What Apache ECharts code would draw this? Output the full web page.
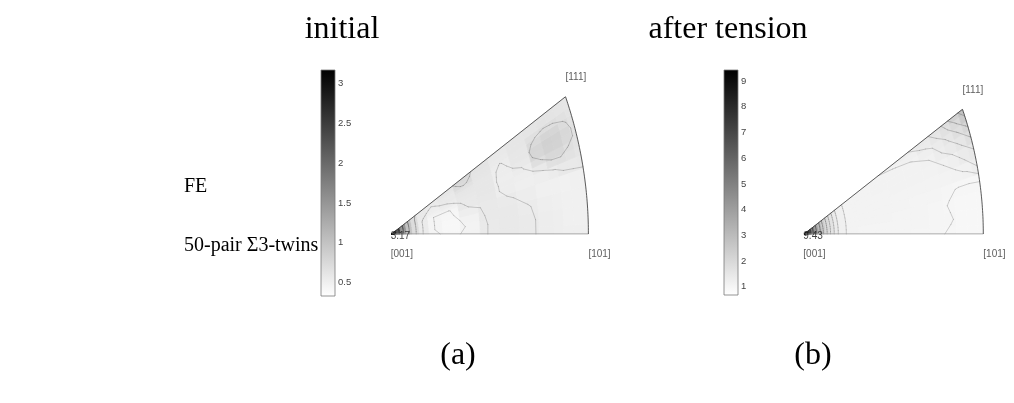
<!DOCTYPE html>
<html><head><meta charset="utf-8">
<script src="https://cdn.jsdelivr.net/npm/echarts@6/dist/echarts.min.js"></script>
<style>html,body{margin:0;padding:0;background:#fff}#c{width:1014px;height:403px}</style>
</head><body><div id="c"></div>
<script>
// ---------------- data ----------------
const panelTitles = ['initial', 'after tension'];
const rowLabels = ['FE', '50-pair Σ3-twins'];
const panelTags = ['(a)', '(b)'];
const poleLabels = ['[001]', '[101]', '[111]'];

const rangeA = [0.33, 3.17];
const rangeB = [0.68, 9.43];
const ticksA = [0.5, 1, 1.5, 2, 2.5, 3];
const ticksB = [1, 2, 3, 4, 5, 6, 7, 8, 9];
const maxLabelA = '3.17';
const maxLabelB = '9.43';
const levelsA = [0.45, 0.55, 0.7, 1.0, 1.5, 2.0, 2.5, 3.0];
const levelsB = [1.0, 1.15, 1.3, 1.5, 1.75, 2.0, 2.5, 3, 4, 5, 6, 7, 8, 9];

// sample directions: u = fraction from the [001]-[101] edge to the [001]-[111] edge,
// s = fraction of the way from [001] to the [101]-[111] arc
const uNodesA = [0, 0.125, 0.25, 0.375, 0.5, 0.5625, 0.625, 0.6875, 0.75, 0.8125, 0.875, 0.9375, 1];
const sNodesA = [0, 0.03, 0.06, 0.09, 0.12, 0.16, 0.22, 0.3, 0.4, 0.5, 0.6, 0.7, 0.8, 0.85, 0.9, 0.95, 1];
const densityA = [
  [3.17, 2.2, 1.5, 1.0, 0.72, 0.55, 0.46, 0.43, 0.47, 0.56, 0.57, 0.56, 0.53, 0.52, 0.51, 0.51, 0.51],
  [3.17, 2.2, 1.5, 1.0, 0.72, 0.55, 0.45, 0.42, 0.46, 0.56, 0.58, 0.56, 0.53, 0.52, 0.50, 0.50, 0.50],
  [3.17, 2.2, 1.5, 1.0, 0.72, 0.55, 0.45, 0.42, 0.48, 0.57, 0.58, 0.555, 0.52, 0.51, 0.50, 0.50, 0.50],
  [3.17, 2.2, 1.5, 1.0, 0.72, 0.55, 0.45, 0.43, 0.52, 0.57, 0.56, 0.53, 0.50, 0.495, 0.49, 0.495, 0.50],
  [3.17, 2.2, 1.5, 1.0, 0.72, 0.55, 0.45, 0.44, 0.57, 0.59, 0.53, 0.51, 0.52, 0.545, 0.57, 0.58, 0.59],
  [3.17, 2.2, 1.5, 1.0, 0.72, 0.555, 0.47, 0.49, 0.58, 0.60, 0.525, 0.52, 0.58, 0.66, 0.68, 0.65, 0.62],
  [3.17, 2.2, 1.5, 1.0, 0.72, 0.56, 0.50, 0.53, 0.59, 0.60, 0.52, 0.54, 0.69, 0.76, 0.76, 0.69, 0.64],
  [3.17, 2.2, 1.5, 1.0, 0.72, 0.565, 0.52, 0.55, 0.60, 0.60, 0.525, 0.57, 0.78, 0.83, 0.82, 0.75, 0.665],
  [3.17, 2.2, 1.5, 1.0, 0.72, 0.57, 0.53, 0.57, 0.61, 0.60, 0.53, 0.60, 0.79, 0.84, 0.83, 0.76, 0.66],
  [3.17, 2.2, 1.5, 1.0, 0.725, 0.575, 0.54, 0.58, 0.65, 0.61, 0.545, 0.60, 0.74, 0.80, 0.79, 0.72, 0.65],
  [3.17, 2.2, 1.5, 1.0, 0.73, 0.58, 0.55, 0.59, 0.72, 0.62, 0.565, 0.605, 0.68, 0.71, 0.695, 0.665, 0.63],
  [3.17, 2.2, 1.5, 1.0, 0.74, 0.58, 0.565, 0.61, 0.75, 0.63, 0.58, 0.61, 0.62, 0.64, 0.635, 0.625, 0.61],
  [3.17, 2.2, 1.5, 1.0, 0.75, 0.58, 0.58, 0.63, 0.77, 0.64, 0.59, 0.61, 0.63, 0.63, 0.63, 0.62, 0.61]
];

const uNodesB = [0, 0.125, 0.25, 0.375, 0.5, 0.625, 0.75, 0.85, 0.92, 1];
const sNodesB = [0, 0.025, 0.05, 0.07, 0.09, 0.11, 0.13, 0.155, 0.18, 0.21, 0.26, 0.35, 0.45, 0.55, 0.65, 0.75, 0.82, 0.88, 0.94, 1];
const densityB = [
  [9.43, 7.0, 5.0, 3.9, 3.0, 2.4, 1.95, 1.65, 1.35, 1.2, 1.1, 1.07, 1.06, 1.05, 1.04, 1.02, 0.98, 0.96, 0.95, 0.95],
  [9.43, 7.0, 5.0, 3.9, 3.0, 2.4, 1.95, 1.65, 1.35, 1.2, 1.1, 1.07, 1.07, 1.06, 1.05, 1.03, 1.01, 0.97, 0.96, 0.96],
  [9.43, 7.0, 5.0, 3.9, 3.0, 2.4, 1.95, 1.65, 1.35, 1.2, 1.1, 1.08, 1.08, 1.07, 1.06, 1.04, 0.99, 0.97, 0.96, 0.97],
  [9.43, 7.0, 5.0, 3.9, 3.0, 2.4, 1.95, 1.65, 1.35, 1.2, 1.1, 1.08, 1.08, 1.08, 1.07, 1.05, 1.02, 0.99, 0.98, 0.99],
  [9.43, 7.0, 5.0, 3.9, 3.0, 2.4, 1.95, 1.65, 1.35, 1.2, 1.1, 1.09, 1.09, 1.09, 1.09, 1.10, 1.10, 1.12, 1.17, 1.30],
  [9.43, 7.0, 5.0, 3.9, 3.0, 2.4, 1.95, 1.65, 1.35, 1.2, 1.1, 1.10, 1.10, 1.11, 1.12, 1.13, 1.15, 1.22, 1.36, 1.47],
  [9.43, 7.0, 5.0, 3.9, 3.0, 2.4, 1.95, 1.65, 1.35, 1.2, 1.1, 1.10, 1.11, 1.12, 1.14, 1.15, 1.29, 1.40, 1.55, 1.78],
  [9.43, 7.0, 5.0, 3.9, 3.0, 2.4, 1.95, 1.65, 1.35, 1.2, 1.1, 1.10, 1.12, 1.14, 1.14, 1.24, 1.36, 1.55, 1.78, 2.05],
  [9.43, 7.0, 5.0, 3.9, 3.0, 2.4, 1.95, 1.65, 1.35, 1.2, 1.1, 1.10, 1.13, 1.14, 1.20, 1.35, 1.50, 1.70, 1.95, 2.45],
  [9.43, 7.0, 5.0, 3.9, 3.0, 2.4, 1.95, 1.65, 1.35, 1.2, 1.1, 1.12, 1.14, 1.20, 1.29, 1.45, 1.56, 1.82, 2.25, 2.75]
];

// ---------------- geometry (stereographic projection of the cubic standard triangle) ----------------
function boundary(u) { const n = Math.sqrt(2 + u * u); return [1 / (n + 1), u / (n + 1)]; }
function proj(u, s) { const b = boundary(u); return [s * b[0], s * b[1]]; }
const X_MAX = boundary(0)[0];
const Y_MAX = boundary(1)[1];

function cellData(V) {
  const out = [];
  V.forEach((row, i) => row.forEach((v, j) => out.push([i, j, v])));
  return out;
}
function cellRenderer(uN, sN) {
  return function (params, api) {
    const i = api.value(0), j = api.value(1);
    const uLo = i === 0 ? 0 : (uN[i - 1] + uN[i]) / 2;
    const uHi = i === uN.length - 1 ? 1 : (uN[i] + uN[i + 1]) / 2;
    const sLo = j === 0 ? 0 : (sN[j - 1] + sN[j]) / 2;
    const sHi = j === sN.length - 1 ? 1 : (sN[j] + sN[j + 1]) / 2;
    const pts = [], K = 4;
    for (let k = 0; k <= K; k++) pts.push(api.coord(proj(uLo + (uHi - uLo) * k / K, sLo)));
    for (let k = K; k >= 0; k--) pts.push(api.coord(proj(uLo + (uHi - uLo) * k / K, sHi)));
    const c = api.visual('color');
    return { type: 'polygon', shape: { points: pts }, style: { fill: c, stroke: c, lineWidth: 0.8 } };
  };
}
function contourSegments(uN, sN, V, levels) {
  const segs = [];
  levels.forEach(L => {
    for (let i = 0; i < uN.length - 1; i++) for (let j = 0; j < sN.length - 1; j++) {
      const c = [[i, j], [i + 1, j], [i + 1, j + 1], [i, j + 1]];
      const pts = [];
      for (let e = 0; e < 4; e++) {
        const a = c[e], b = c[(e + 1) % 4];
        const va = V[a[0]][a[1]], vb = V[b[0]][b[1]];
        if ((va < L) !== (vb < L)) {
          const t = (L - va) / (vb - va);
          const u = uN[a[0]] + t * (uN[b[0]] - uN[a[0]]);
          const s = sN[a[1]] + t * (sN[b[1]] - sN[a[1]]);
          pts.push(proj(u, s));
        }
      }
      if (pts.length === 2) segs.push([pts[0][0], pts[0][1], pts[1][0], pts[1][1], L]);
      else if (pts.length === 4) {
        segs.push([pts[0][0], pts[0][1], pts[1][0], pts[1][1], L]);
        segs.push([pts[2][0], pts[2][1], pts[3][0], pts[3][1], L]);
      }
    }
  });
  return segs;
}
function segRenderer(range) {
  return function (params, api) {
    const p1 = api.coord([api.value(0), api.value(1)]);
    const p2 = api.coord([api.value(2), api.value(3)]);
    const f = (api.value(4) - range[0]) / (range[1] - range[0]);
    const a = Math.min(0.85, 0.28 + 0.55 * f);
    return { type: 'line', shape: { x1: p1[0], y1: p1[1], x2: p2[0], y2: p2[1] },
      style: { stroke: 'rgba(45,45,45,' + a.toFixed(3) + ')', lineWidth: 0.7, lineCap: 'round' } };
  };
}
function arcAndDiagonal() {
  const pts = [proj(0, 1)];
  for (let k = 1; k <= 48; k++) pts.push(proj(k / 48, 1));
  pts.push([0, 0]);
  return pts;
}

// ---------------- layout ----------------
const panels = [
  { range: rangeA, ticks: ticksA, maxLabel: maxLabelA, levels: levelsA, uN: uNodesA, sN: sNodesA, V: densityA,
    bar: { left: 321, top: 70, width: 14, height: 226 },
    tri: { left: 391.7, top: 96.7, width: 196.7, height: 137.3 } },
  { range: rangeB, ticks: ticksB, maxLabel: maxLabelB, levels: levelsB, uN: uNodesB, sN: sNodesB, V: densityB,
    bar: { left: 724, top: 70, width: 14, height: 225 },
    tri: { left: 804.3, top: 109.3, width: 179, height: 124.7 } }
];

const grid = [], xAxis = [], yAxis = [], series = [], visualMap = [];
const sans = 'Liberation Sans, Arial, sans-serif';

panels.forEach((p) => {
  const gBar = grid.length;
  grid.push(Object.assign({}, p.bar));
  xAxis.push({ gridIndex: gBar, type: 'value', min: 0, max: 1, show: false });
  yAxis.push({ gridIndex: gBar, type: 'value', min: p.range[0], max: p.range[1], position: 'right',
    axisLine: { show: false }, splitLine: { show: false },
    axisTick: { show: true, inside: false, length: 2, customValues: p.ticks, lineStyle: { color: '#777', width: 0.8 } },
    axisLabel: { margin: 3, customValues: p.ticks, fontFamily: sans, fontSize: 9.5, color: '#444' } });
  series.push({ type: 'custom', xAxisIndex: gBar, yAxisIndex: gBar, clip: false, silent: true,
    data: [[0, p.range[0], 1, p.range[1]]],
    renderItem: (params, api) => {
      const a = api.coord([api.value(0), api.value(1)]);
      const b = api.coord([api.value(2), api.value(3)]);
      return { type: 'rect', shape: { x: a[0], y: b[1], width: b[0] - a[0], height: a[1] - b[1] },
        style: { fill: new echarts.graphic.LinearGradient(0, 1, 0, 0, [{ offset: 0, color: '#ffffff' }, { offset: 1, color: '#000000' }]),
          stroke: '#7a7a7a', lineWidth: 0.8 } };
    } });

  const gTri = grid.length;
  grid.push(Object.assign({}, p.tri));
  xAxis.push({ gridIndex: gTri, type: 'value', min: 0, max: X_MAX, show: false });
  yAxis.push({ gridIndex: gTri, type: 'value', min: 0, max: Y_MAX, show: false });

  const cellIdx = series.length;
  series.push({ type: 'custom', xAxisIndex: gTri, yAxisIndex: gTri, clip: false, silent: true,
    dimensions: ['u', 's', 'density'], encode: { x: -1, y: -1 },
    data: cellData(p.V), renderItem: cellRenderer(p.uN, p.sN), z: 1 });
  visualMap.push({ type: 'continuous', show: false, min: p.range[0], max: p.range[1], dimension: 2,
    seriesIndex: cellIdx, inRange: { color: ['#ffffff', '#000000'] } });

  series.push({ type: 'custom', xAxisIndex: gTri, yAxisIndex: gTri, clip: false, silent: true,
    data: contourSegments(p.uN, p.sN, p.V, p.levels), renderItem: segRenderer(p.range), z: 2 });

  // bottom edge [001]-[101] (lighter), then the arc and the [111]-[001] edge
  series.push({ type: 'line', xAxisIndex: gTri, yAxisIndex: gTri, silent: true, symbol: 'none',
    data: [proj(0, 0), proj(0, 1)], lineStyle: { color: '#8a8a8a', width: 0.9 }, z: 3 });
  series.push({ type: 'line', xAxisIndex: gTri, yAxisIndex: gTri, silent: true, symbol: 'none',
    data: arcAndDiagonal(), lineStyle: { color: '#333333', width: 0.8 }, z: 3 });

  const c001 = proj(0, 0), c101 = proj(0, 1), c111 = proj(1, 1);
  const lab = (txt, dx, dy, color) => ({ show: true, formatter: txt, position: 'inside', offset: [dx, dy],
    align: 'left', verticalAlign: 'middle', fontFamily: sans, fontSize: 10, color: color });
  series.push({ type: 'scatter', xAxisIndex: gTri, yAxisIndex: gTri, silent: true, symbolSize: 1,
    itemStyle: { color: 'rgba(0,0,0,0)' }, z: 10, zlevel: 1,
    data: [
      { value: c001, label: lab(poleLabels[0], -1, 20, '#333') },
      { value: c101, label: lab(poleLabels[1], 0, 20, '#333') },
      { value: c111, label: lab(poleLabels[2], 0, -19, '#333') },
      { value: c001, label: lab(p.maxLabel, -1, 2, '#111') }
    ] });
});

const serif = 'Liberation Serif, Times New Roman, serif';
const txt = (t, x, y, align, size) => ({ type: 'text', x: x, y: y, silent: true,
  style: { text: t, fontFamily: serif, fontSize: size, fill: '#000', textAlign: align, textVerticalAlign: 'middle' } });

const chart = echarts.init(document.getElementById('c'), null, { renderer: 'canvas' });
chart.setOption({
  animation: false,
  backgroundColor: '#ffffff',
  grid, xAxis, yAxis, series, visualMap,
  graphic: [
    txt(panelTitles[0], 342, 30, 'center', 32),
    txt(panelTitles[1], 728, 30, 'center', 32),
    txt(rowLabels[0], 184, 187, 'left', 20),
    txt(rowLabels[1], 184, 246, 'left', 20),
    txt(panelTags[0], 458, 356, 'center', 32),
    txt(panelTags[1], 813, 356, 'center', 32)
  ]
});
</script>
</body></html>
